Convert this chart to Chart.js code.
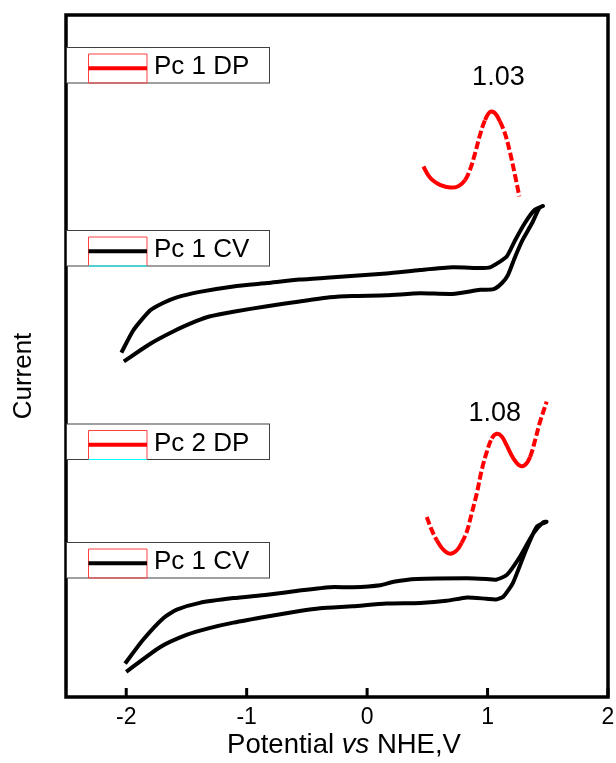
<!DOCTYPE html>
<html>
<head>
<meta charset="utf-8">
<script src="https://cdn.jsdelivr.net/npm/chart.js@4.4.1/dist/chart.umd.min.js"></script>
<style>
    html, body { margin: 0; padding: 0; background: #fff; }
    #wrap { width: 616px; height: 763px; }
</style>
</head>
<body>
<div id="wrap"><canvas id="cvChart" width="616" height="763"></canvas></div>
<script>
// x ticks (potential, V vs NHE)
const xTicks = [-2, -1, 0, 1, 2];

// Pc 1 CV (upper trace): forward branch then return branch
const cvTopX = [-2.04, -1.94, -1.80, -1.69, -1.58, -1.39, -1.11, -0.83, -0.56, -0.31, 0.16, 0.44, 0.71, 0.94, 1.02, 1.10, 1.16, 1.23, 1.31, 1.39, 1.46,
    1.43, 1.37, 1.29, 1.23, 1.17, 1.12, 1.05, 0.94, 0.71, 0.44, 0.16, -0.12, -0.31, -0.56, -0.83, -1.11, -1.31, -1.42, -1.61, -1.80, -2.02];
const cvTopY = [50.5, 53.8, 56.7, 57.8, 58.6, 59.4, 60.2, 60.7, 61.2, 61.5, 62.1, 62.6, 63.0, 62.9, 63.0, 63.8, 64.6, 67.0, 69.5, 71.4, 72.0,
    71.7, 69.5, 67.0, 64.6, 61.9, 60.7, 59.8, 59.7, 59.1, 59.2, 58.9, 58.8, 58.6, 58.0, 57.3, 56.5, 55.8, 55.1, 53.6, 51.8, 49.2];

// Pc 1 CV (lower trace)
const cvBotX = [-2.01, -1.86, -1.69, -1.58, -1.39, -1.11, -0.83, -0.56, -0.31, -0.12, 0.11, 0.22, 0.41, 0.83, 0.99, 1.07, 1.16, 1.27, 1.38, 1.46, 1.49,
    1.41, 1.32, 1.21, 1.13, 1.07, 0.99, 0.83, 0.66, 0.44, 0.16, -0.12, -0.39, -0.56, -0.83, -1.11, -1.31, -1.50, -1.72, -2.00];
const cvBotY = [4.9, 8.4, 11.6, 12.8, 13.8, 14.5, 15.0, 15.6, 16.1, 16.1, 16.4, 16.9, 17.3, 17.4, 17.3, 17.2, 17.9, 20.6, 24.0, 25.6, 25.7,
    25.0, 21.6, 16.7, 14.7, 14.3, 14.4, 14.6, 14.1, 13.8, 13.7, 13.3, 13.0, 12.6, 11.8, 10.9, 10.1, 9.1, 7.3, 3.7];

// Pc 1 DP
const dp1X = [0.467, 0.508, 0.550, 0.605, 0.688, 0.757, 0.813, 0.854, 0.896, 0.937, 0.979, 1.021, 1.062, 1.103, 1.145, 1.186, 1.228, 1.264];
const dp1Y = [77.8, 76.5, 75.7, 75.1, 74.7, 74.9, 75.8, 77.3, 79.7, 82.4, 84.6, 85.8, 85.6, 84.4, 82.6, 79.9, 76.5, 73.4];

// Pc 2 DP
const dp2X = [0.495, 0.536, 0.578, 0.633, 0.688, 0.744, 0.785, 0.827, 0.868, 0.910, 0.952, 0.993, 1.035, 1.076, 1.118, 1.159, 1.214, 1.270,
    1.311, 1.353, 1.394, 1.435, 1.491];
const dp2Y = [26.4, 24.5, 23.0, 21.6, 21.0, 21.5, 22.6, 24.2, 26.9, 29.8, 33.3, 35.9, 37.9, 38.6, 38.2, 36.9, 35.0, 33.9,
    34.0, 35.2, 37.6, 40.3, 43.3];

// legend entries (top to bottom) and peak labels
const legendLabels = ["Pc 1 DP", "Pc 1 CV", "Pc 2 DP", "Pc 1 CV"];
const peakLabels = ["1.03", "1.08"];
const peakX = [1.09, 1.06];
const peakY = [90.9, 41.5];

const FONT = "Arial, 'Liberation Sans', sans-serif";

function toPoints(xs, ys) {
    return xs.map((x, i) => ({ x: x, y: ys[i] }));
}

// steep stretches of the DP traces are dotted in the original
function dashWhenSteep(seg) {
    const dx = Math.abs(seg.p1.x - seg.p0.x);
    const dy = Math.abs(seg.p1.y - seg.p0.y);
    return dy > 2.0 * dx ? [8, 3] : undefined;
}

const decorPlugin = {
    id: "decor",
    afterDraw(chart) {
        const ctx = chart.ctx;
        const area = chart.chartArea;
        const xs = chart.scales.x;
        const ys = chart.scales.y;
        ctx.save();

        // inward ticks
        ctx.strokeStyle = "#000";
        ctx.lineWidth = 3;
        xTicks.forEach((v) => {
            const px = xs.getPixelForValue(v);
            ctx.beginPath();
            ctx.moveTo(px, area.bottom);
            ctx.lineTo(px, area.bottom - 9);
            ctx.stroke();
        });

        // frame
        ctx.lineWidth = 3.5;
        ctx.strokeRect(area.left, area.top, area.right - area.left, area.bottom - area.top);

        // legend boxes
        const boxTops = [47.5, 230.5, 424, 542.5];
        const lineColors = ["#ff0000", "#000000", "#ff0000", "#000000"];
        const cyanBottom = [false, true, true, false];
        boxTops.forEach((t, i) => {
            const h = 35.5;
            ctx.fillStyle = "#fff";
            ctx.fillRect(area.left, t, 269.5 - area.left, h);
            ctx.strokeStyle = "#404040";
            ctx.lineWidth = 1;
            ctx.strokeRect(area.left + 0.5, t, 269.5 - area.left - 0.5, h);

            const rx = 88.5, rw = 58.5, ry = t + 6.5, rh = h - 6.5;
            ctx.strokeStyle = "#ff4040";
            ctx.beginPath();
            ctx.moveTo(rx, ry + rh);
            ctx.lineTo(rx, ry);
            ctx.lineTo(rx + rw, ry);
            ctx.lineTo(rx + rw, ry + rh);
            ctx.stroke();
            ctx.strokeStyle = cyanBottom[i] ? "#00ffff" : "#ff4040";
            ctx.beginPath();
            ctx.moveTo(rx, ry + rh);
            ctx.lineTo(rx + rw, ry + rh);
            ctx.stroke();

            ctx.strokeStyle = lineColors[i];
            ctx.lineWidth = 4;
            ctx.beginPath();
            ctx.moveTo(rx, t + 20.7);
            ctx.lineTo(rx + rw, t + 20.7);
            ctx.stroke();

            ctx.fillStyle = "#000";
            ctx.font = "26px " + FONT;
            ctx.textAlign = "left";
            ctx.textBaseline = "middle";
            ctx.fillText(legendLabels[i], 154, t + 19.5);
        });

        // peak labels
        ctx.font = "27px " + FONT;
        ctx.textAlign = "center";
        ctx.textBaseline = "middle";
        peakLabels.forEach((txt, i) => {
            ctx.fillText(txt, xs.getPixelForValue(peakX[i]), ys.getPixelForValue(peakY[i]));
        });

        // x axis title with italic "vs"
        const parts = [
            { t: "Potential ", f: "27.5px " + FONT },
            { t: "vs", f: "italic 27.5px " + FONT },
            { t: " NHE,V", f: "27.5px " + FONT },
        ];
        let total = 0;
        parts.forEach((p) => { ctx.font = p.f; total += ctx.measureText(p.t).width; });
        let cx = 344 - total / 2;
        ctx.textAlign = "left";
        ctx.textBaseline = "middle";
        parts.forEach((p) => {
            ctx.font = p.f;
            ctx.fillText(p.t, cx, 745);
            cx += ctx.measureText(p.t).width;
        });

        // y axis title
        ctx.translate(24, 376);
        ctx.rotate(-Math.PI / 2);
        ctx.textAlign = "center";
        ctx.font = "26px " + FONT;
        ctx.fillText("Current", 0, 0);

        ctx.restore();
    },
};

const lineDefaults = {
    showLine: true,
    pointRadius: 0,
    borderWidth: 4,
    tension: 0.35,
    fill: false,
};

new Chart(document.getElementById("cvChart"), {
    type: "scatter",
    data: {
        datasets: [
            Object.assign({}, lineDefaults, { label: "Pc 1 DP", data: toPoints(dp1X, dp1Y), borderColor: "#ff0000", segment: { borderDash: dashWhenSteep } }),
            Object.assign({}, lineDefaults, { label: "Pc 1 CV", data: toPoints(cvTopX, cvTopY), borderColor: "#000000", tension: 0.2 }),
            Object.assign({}, lineDefaults, { label: "Pc 2 DP", data: toPoints(dp2X, dp2Y), borderColor: "#ff0000", segment: { borderDash: dashWhenSteep } }),
            Object.assign({}, lineDefaults, { label: "Pc 1 CV", data: toPoints(cvBotX, cvBotY), borderColor: "#000000", tension: 0.2 }),
        ],
    },
    options: {
        responsive: false,
        animation: false,
        layout: { padding: { top: 15, right: 8, left: 0, bottom: 0 } },
        plugins: {
            legend: { display: false },
            tooltip: { enabled: false },
        },
        scales: {
            x: {
                type: "linear",
                min: -2.5,
                max: 2,
                afterBuildTicks: (axis) => {
                    axis.ticks = xTicks.map((v) => ({ value: v }));
                },
                afterFit: (scale) => {
                    scale.height = 66;
                    scale.paddingLeft = 0;
                    scale.paddingRight = 0;
                },
                grid: { display: false, drawTicks: false },
                border: { display: false },
                ticks: {
                    color: "#000",
                    font: { family: FONT, size: 23 },
                    padding: 7,
                    maxRotation: 0,
                },
            },
            y: {
                type: "linear",
                min: 0,
                max: 100,
                afterFit: (scale) => { scale.width = 66; },
                grid: { display: false, drawTicks: false },
                border: { display: false },
                ticks: { display: false },
            },
        },
    },
    plugins: [decorPlugin],
});
</script>
</body>
</html>
